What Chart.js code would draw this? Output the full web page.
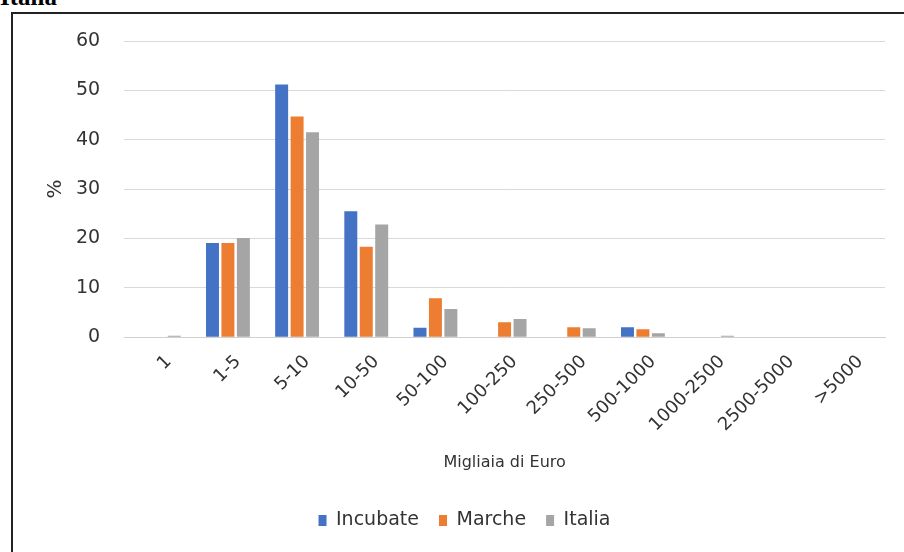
<!DOCTYPE html>
<html>
<head>
<meta charset="utf-8">
<script src="https://cdn.jsdelivr.net/npm/chart.js@4"></script>
<style>
  body { margin: 0; background: #fff; width: 904px; height: 552px; overflow: hidden; position: relative; }
  #head { position: absolute; left: 0; top: -17px; font: bold 25px "Liberation Serif", serif; color: #000; }
  #box { position: absolute; left: 11px; top: 12px; width: 900px; height: 560px; border: 2px solid #222; box-sizing: border-box; }
  #wrap { position: absolute; left: 13px; top: 14px; width: 891px; height: 538px; }
</style>
</head>
<body>
<div id="head">Italia</div>
<div id="box"></div>
<div id="wrap"><canvas id="myChart" width="891" height="538"></canvas></div>
<script>
const categories = ["1", "1-5", "5-10", "10-50", "50-100", "100-250", "250-500", "500-1000", "1000-2500", "2500-5000", ">5000"]
const incubate = [0, 19.1, 51.2, 25.5, 1.9, 0, 0, 2.0, 0, 0, 0]
const marche = [0, 19.1, 44.7, 18.3, 7.9, 3.0, 2.0, 1.6, 0, 0, 0]
const italia = [0.3, 20.1, 41.5, 22.8, 5.7, 3.7, 1.8, 0.8, 0.3, 0, 0]
const yTicks = [0, 10, 20, 30, 40, 50, 60]

function createChart(){
    let htmlChart = document.getElementById("myChart")

    new Chart(htmlChart, {
        type: "bar",
        data: {
            labels: categories,
            datasets: [
                { label: "Incubate", data: incubate, backgroundColor: "#4472C4" },
                { label: "Marche", data: marche, backgroundColor: "#ED7D31" },
                { label: "Italia", data: italia, backgroundColor: "#A5A5A5" }
            ]
        },
        options: {
            responsive: false,
            animation: false,
            categoryPercentage: 0.67,
            barPercentage: 0.84,
            layout: { padding: { left: 31, right: 19, top: 27, bottom: 12 } },
            plugins: {
                tooltip: { enabled: false },
                legend: {
                    position: "bottom",
                    labels: {
                        color: "#333",
                        boxWidth: 8,
                        boxHeight: 11,
                        padding: 20,
                        font: { family: "DejaVu Sans", size: 19 }
                    }
                }
            },
            scales: {
                x: {
                    grid: { display: false },
                    border: { color: "#d0d0d0" },
                    ticks: {
                        color: "#333",
                        maxRotation: 45,
                        minRotation: 45,
                        padding: 6,
                        labelOffset: 10,
                        font: { family: "DejaVu Sans", size: 18 }
                    },
                    title: {
                        display: true,
                        text: "Migliaia di Euro",
                        color: "#333",
                        font: { family: "DejaVu Sans", size: 16 },
                        padding: { top: 11, bottom: 19 }
                    }
                },
                y: {
                    min: yTicks[0],
                    max: yTicks[yTicks.length - 1],
                    afterBuildTicks: axis => { axis.ticks = yTicks.map(v => ({ value: v })) },
                    grid: { color: "#d9d9d9", drawTicks: true, tickLength: 20, tickColor: "transparent" },
                    border: { display: false },
                    ticks: {
                        color: "#333",
                        padding: 4,
                        font: { family: "DejaVu Sans", size: 19 }
                    },
                    title: {
                        display: true,
                        text: "%",
                        color: "#333",
                        font: { family: "DejaVu Sans", size: 20 },
                        padding: { top: 0, bottom: 4 }
                    }
                }
            }
        }
    })
}

createChart()
</script>
</body>
</html>
